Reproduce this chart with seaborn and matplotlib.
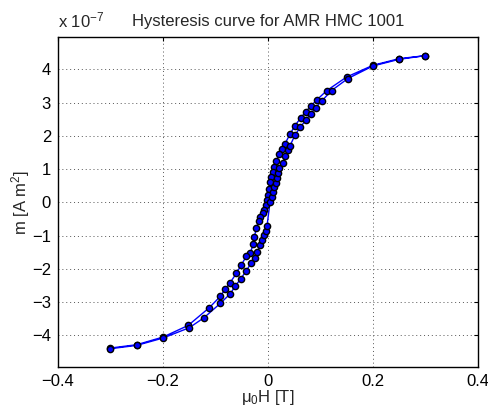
import numpy as np
import pandas as pd
import matplotlib
matplotlib.use("Agg")
import matplotlib.pyplot as plt
import seaborn as sns

# descending branch (from +0.3 T to -0.3 T), field in T, m in 1e-7 A m^2
H_down = [0.3, 0.25, 0.2, 0.15, 0.112, 0.093, 0.082, 0.072, 0.062, 0.051, 0.042,
          0.032, 0.026, 0.021, 0.016, 0.011, 0.009, 0.006, 0.004, 0.002, 0.0006,
          -0.0025, -0.003, -0.007, -0.009, -0.015, -0.018, -0.022, -0.026, -0.028,
          -0.034, -0.041, -0.051, -0.060, -0.072, -0.082, -0.091, -0.112, -0.152,
          -0.2, -0.25, -0.3]
m_down = [4.41, 4.32, 4.12, 3.77, 3.36, 3.08, 2.90, 2.73, 2.53, 2.30, 2.05,
          1.75, 1.60, 1.44, 1.25, 1.07, 0.92, 0.77, 0.62, 0.40, 0.22,
          0.07, -0.08, -0.23, -0.33, -0.45, -0.55, -0.78, -1.03, -1.26,
          -1.53, -1.62, -1.88, -2.13, -2.41, -2.62, -2.83, -3.17, -3.70,
          -4.05, -4.28, -4.38]

# ascending branch (from -0.3 T back to +0.3 T)
H_up = [-0.3, -0.25, -0.2, -0.15, -0.122, -0.091, -0.072, -0.062, -0.052, -0.041,
        -0.032, -0.025, -0.020, -0.015, -0.012, -0.007, -0.004, -0.002,
        0.004, 0.007, 0.010, 0.012, 0.015, 0.017, 0.019, 0.021, 0.029, 0.032,
        0.039, 0.042, 0.051, 0.061, 0.072, 0.081, 0.091, 0.102, 0.121, 0.152,
        0.2, 0.25, 0.3]
m_up = [-4.40, -4.30, -4.08, -3.77, -3.47, -3.04, -2.75, -2.51, -2.30, -2.05,
        -1.82, -1.66, -1.48, -1.28, -1.13, -0.98, -0.86, -0.72,
        0.02, 0.17, 0.32, 0.45, 0.57, 0.72, 0.87, 1.02, 1.19, 1.40,
        1.57, 1.70, 2.01, 2.25, 2.47, 2.67, 2.85, 3.04, 3.36, 3.72,
        4.10, 4.30, 4.41]

x_ticks = [-0.4, -0.2, 0, 0.2, 0.4]
x_ticklabels = ['\u22120.4', '\u22120.2', '0', '0.2', '0.4']
y_ticks = [-4, -3, -2, -1, 0, 1, 2, 3, 4]

df = pd.DataFrame({
    'H': H_down + H_up,
    'm': np.array(m_down + m_up) * 1e-7,
})

sns.set_style("white")
plt.rcParams['font.family'] = ['Liberation Sans', 'DejaVu Sans']
plt.rcParams['mathtext.default'] = 'regular'

fig = plt.figure(figsize=(4.89, 4.08), dpi=100)
ax = fig.add_axes([0.1186, 0.1005, 0.8589, 0.8088])

sns.lineplot(data=df, x='H', y='m', sort=False, estimator=None, ax=ax,
             color='#0000ff', linewidth=1.0, marker='o', markersize=4.5,
             markerfacecolor='#0000ff', markeredgecolor='black',
             markeredgewidth=1.0)

ax.set_xlim(-0.4, 0.4)
ax.set_ylim(-4.95e-7, 4.97e-7)
ax.set_xticks(x_ticks)
ax.set_xticklabels(x_ticklabels)
ax.set_yticks(np.array(y_ticks) * 1e-7)
ax.set_yticklabels([str(v).replace('-', '\u2212') for v in y_ticks])

ax.grid(True, linestyle=(0, (1, 3)), color='#555555', linewidth=0.7)
ax.tick_params(direction='in', top=True, right=True, length=3,
               labelsize=12, colors='black', pad=5)
for s in ax.spines.values():
    s.set_color('black')
    s.set_linewidth(1.0)

ax.set_xlabel('$\\mu_0$H [T]', fontsize=12, labelpad=-1)
ax.set_ylabel('m [A m$^2$]', fontsize=12, labelpad=0)
ax.set_title('Hysteresis curve for AMR HMC 1001', fontsize=12, pad=8)
ax.text(0.0, 1.02, 'x 10$^{-7}$', transform=ax.transAxes, fontsize=12,
        ha='left', va='bottom')

fig.savefig('out.png', dpi=100)
